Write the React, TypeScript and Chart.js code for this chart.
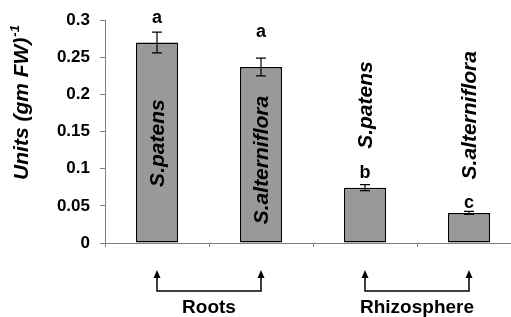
import React, { useEffect, useRef } from 'react';
import { Chart, registerables } from 'chart.js';
Chart.register(...registerables);

const categories = ['S.patens', 'S.alterniflora', 'S.patens', 'S.alterniflora'];
const values = [0.27, 0.237, 0.0745, 0.0405];
const errors = [0.014, 0.012, 0.004, 0.002];
const letters = ['a', 'a', 'b', 'c'];
const letterPositions = [0.303, 0.284, 0.094, 0.054];
const namePositions = [0.1345, 0.1117, 0.1857, 0.172];
const yTickLabels = ['0', '0.05', '0.1', '0.15', '0.2', '0.25', '0.3'];
const groups = ['Roots', 'Rhizosphere'];
const groupMembers = [[0, 1], [2, 3]];
const yTitle = 'Units (gm FW)';
const yTitleSup = '-1';

const FONT = '"Liberation Sans", Arial, sans-serif';

const annotate = {
  id: 'annotate',
  afterDatasetsDraw(chart: any) {
    const ctx = chart.ctx as CanvasRenderingContext2D;
    const xs = chart.scales.x;
    const ys = chart.scales.y;
    ctx.save();
    // error bars
    ctx.strokeStyle = '#000';
    ctx.lineWidth = 1.2;
    values.forEach((v, i) => {
      const x = xs.getPixelForValue(i);
      const yt = ys.getPixelForValue(v + errors[i]);
      const yb = ys.getPixelForValue(v - errors[i]);
      ctx.beginPath();
      ctx.moveTo(x, yt); ctx.lineTo(x, yb);
      ctx.moveTo(x - 5, yt); ctx.lineTo(x + 5, yt);
      ctx.moveTo(x - 5, yb); ctx.lineTo(x + 5, yb);
      ctx.stroke();
    });
    // letters
    ctx.fillStyle = '#000';
    ctx.font = `bold 18px ${FONT}`;
    ctx.textAlign = 'center';
    ctx.textBaseline = 'middle';
    letters.forEach((l, i) => {
      ctx.fillText(l, xs.getPixelForValue(i), ys.getPixelForValue(letterPositions[i]));
    });
    // rotated names
    ctx.font = `italic bold 21px ${FONT}`;
    categories.forEach((c, i) => {
      ctx.save();
      ctx.translate(xs.getPixelForValue(i), ys.getPixelForValue(namePositions[i]));
      ctx.rotate(-Math.PI / 2);
      ctx.fillText(c, 0, 1);
      ctx.restore();
    });
    // group arrows
    const lineY = 291;
    const topY = 270;
    ctx.lineWidth = 1.5;
    groups.forEach((g, gi) => {
      const [a, b] = groupMembers[gi];
      const xa = xs.getPixelForValue(a);
      const xb = xs.getPixelForValue(b);
      ctx.beginPath();
      ctx.moveTo(xa, topY + 5); ctx.lineTo(xa, lineY); ctx.lineTo(xb, lineY); ctx.lineTo(xb, topY + 5);
      ctx.stroke();
      [xa, xb].forEach((x) => {
        ctx.beginPath();
        ctx.moveTo(x, topY);
        ctx.lineTo(x - 3.5, topY + 8);
        ctx.lineTo(x + 3.5, topY + 8);
        ctx.closePath();
        ctx.fill();
      });
      ctx.font = `bold 19px ${FONT}`;
      ctx.textAlign = 'center';
      ctx.textBaseline = 'middle';
      ctx.fillText(g, (xa + xb) / 2, 308);
    });
    // y title
    ctx.save();
    ctx.translate(22, 103);
    ctx.rotate(-Math.PI / 2);
    ctx.font = `italic bold 21px ${FONT}`;
    const w = ctx.measureText(yTitle).width;
    ctx.font = `italic bold 13px ${FONT}`;
    const ws = ctx.measureText(yTitleSup).width;
    const start = -(w + ws) / 2;
    ctx.textAlign = 'left';
    ctx.textBaseline = 'middle';
    ctx.font = `italic bold 21px ${FONT}`;
    ctx.fillText(yTitle, start, 0);
    ctx.font = `italic bold 13px ${FONT}`;
    ctx.fillText(yTitleSup, start + w + 1, -7);
    ctx.restore();
    ctx.restore();
  },
};

export default function App() {
  const ref = useRef<HTMLCanvasElement>(null);
  useEffect(() => {
    if (!ref.current) return;
    const chart = new Chart(ref.current, {
      type: 'bar',
      data: {
        labels: categories,
        datasets: [
          {
            data: values,
            backgroundColor: '#999999',
            borderColor: '#000000',
            borderWidth: 1.5,
            borderSkipped: false,
            barPercentage: 0.405,
            categoryPercentage: 1,
          },
        ],
      },
      options: {
        responsive: false,
        animation: false,
        devicePixelRatio: 1,
        layout: { padding: { left: 0, right: 0, top: 20, bottom: 0 } },
        plugins: { legend: { display: false }, tooltip: { enabled: false } },
        scales: {
          x: {
            type: 'category',
            offset: true,
            grid: { offset: true, drawOnChartArea: false, drawTicks: true, tickLength: 4, color: '#808080' },
            border: { color: '#808080', width: 1 },
            ticks: { display: false },
            afterFit: (s: any) => { s.height = 74; s.paddingLeft = 0; s.paddingRight = 0; },
          },
          y: {
            min: 0,
            max: 0.3,
            ticks: {
              stepSize: 0.05,
              callback: (_v: any, i: number) => yTickLabels[i],
              font: { family: FONT, size: 17, weight: 'bold' },
              color: '#000',
              padding: 10,
            },
            grid: { drawOnChartArea: false, tickLength: 5, color: '#808080' },
            border: { color: '#808080', width: 1 },
            afterFit: (s: any) => { s.width = 105; },
          },
        },
      } as any,
      plugins: [annotate],
    });
    return () => chart.destroy();
  }, []);
  return (
    <div style={{ position: 'fixed', left: 0, top: 0, width: 511, height: 317, overflow: 'hidden', background: '#fff' }}>
      <canvas ref={ref} width={521} height={317} style={{ display: 'block' }} />
    </div>
  );
}
